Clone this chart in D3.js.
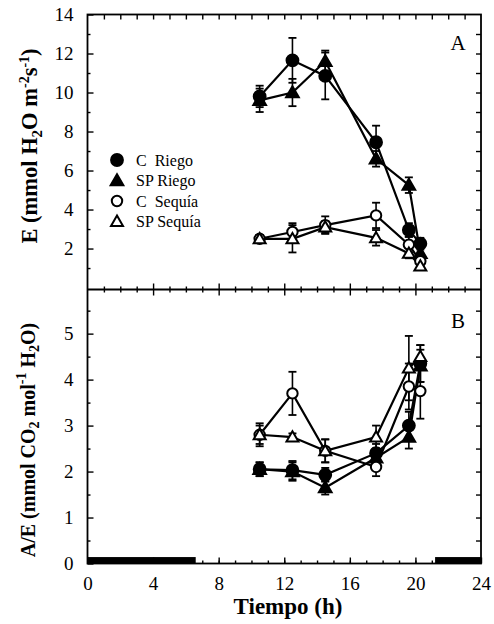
<!DOCTYPE html>
<html><head><meta charset="utf-8">
<script src="https://cdn.jsdelivr.net/npm/d3@7"></script>
<style>
html,body{margin:0;padding:0;background:#fff;}
svg{display:block;font-family:"Liberation Serif","Times New Roman",serif;}
</style></head>
<body>
<svg id="c" width="494" height="624"></svg>
<script>
// ---- data ----
const times = [10.5, 12.5, 14.5, 17.6, 19.6, 20.3];
const seriesNames = ["C  Riego", "SP Riego", "C  Sequía", "SP Sequía"];
// Panel A: E (mmol H2O m-2 s-1)
const eCRiego    = [9.8, 11.65, 10.85, 7.45, 2.95, 2.25];
const eCRiegoErr = [0.55, 1.15, 1.2, 0.85, 0.35, 0.3];
const eSPRiego    = [9.6, 10.0, 11.6, 6.6, 5.25, 1.75];
const eSPRiegoErr = [0.6, 0.7, 0.55, 0.4, 0.4, 0.3];
const eCSequia    = [2.5, 2.85, 3.2, 3.7, 2.2, 1.35];
const eCSequiaErr = [0.2, 0.45, 0.45, 0.65, 0.4, 0.2];
const eSPSequia    = [2.5, 2.5, 3.1, 2.55, 1.75, 1.1];
const eSPSequiaErr = [0.2, 0.7, 0.3, 0.4, 0.25, 0.15];
// Panel B: A/E (mmol CO2 mol-1 H2O)
const aeCRiego    = [2.05, 2.03, 1.93, 2.4, 3.0, 4.35];
const aeCRiegoErr = [0.15, 0.2, 0.15, 0.2, 0.3, 0.4];
const aeSPRiego    = [2.05, 2.0, 1.65, 2.3, 2.75, 4.3];
const aeSPRiegoErr = [0.15, 0.2, 0.15, 0.2, 0.25, 0.35];
const aeCSequia    = [2.8, 3.7, 2.45, 2.1, 3.85, 3.75];
const aeCSequiaErr = [0.2, 0.47, 0.25, 0.2, 0.5, 0.6];
const aeSPSequia    = [2.8, 2.75, 2.45, 2.75, 4.25, 4.5];
const aeSPSequiaErr = [0.25, 0.08, 0.25, 0.25, 0.7, 0.25];
// night periods (h)
const nightStart = [0, 21.2];
const nightEnd   = [6.6, 24];
const xTicks = [0, 4, 8, 12, 16, 20, 24];
const eTicks = [2, 4, 6, 8, 10, 12, 14];
const aeTicks = [0, 1, 2, 3, 4, 5];

// ---- layout ----
const svg = d3.select("#c");
const L = 87.5, R = 481, T = 14.5, M = 289.5, B = 563.5;
const x = d3.scaleLinear().domain([0, 24]).range([L, R]);
const yA = d3.scaleLinear().domain([-0.1, 14]).range([M, T]);
const yB = d3.scaleLinear().domain([0, 5.96]).range([B, M]);

const markers = [
  {shape: d3.symbolCircle, fill: "#000", size: 110},
  {shape: d3.symbolTriangle, fill: "#000", size: 70},
  {shape: d3.symbolCircle, fill: "#fff", size: 85},
  {shape: d3.symbolTriangle, fill: "#fff", size: 62}
];

function axisStyle(g){
  g.select(".domain").remove();
  g.selectAll("line").attr("stroke", "#000").attr("stroke-width", 1.4);
  g.selectAll("text").attr("fill", "#000").attr("font-size", 19).attr("font-family", '"Liberation Serif",serif');
}
const range = (a, b, s) => d3.range(a, b + 1e-9, s);

// night bars
svg.append("g").selectAll("rect").data(nightStart).join("rect")
  .attr("x", (d, i) => x(d)).attr("width", (d, i) => x(nightEnd[i]) - x(d))
  .attr("y", yB(0.14)).attr("height", yB(0) - yB(0.14)).attr("fill", "#000");

// Left axes
svg.append("g").attr("transform", `translate(${L},0)`)
  .call(d3.axisLeft(yA).tickValues(range(1, 13, 2)).tickSize(-3).tickFormat(""))
  .call(axisStyle);
svg.append("g").attr("transform", `translate(${L},0)`)
  .call(d3.axisLeft(yA).tickValues(eTicks).tickSize(-6).tickPadding(14).tickFormat(d3.format("d")))
  .call(axisStyle);
svg.append("g").attr("transform", `translate(${L},0)`)
  .call(d3.axisLeft(yB).tickValues(range(0.5, 5.5, 1)).tickSize(-3).tickFormat(""))
  .call(axisStyle);
svg.append("g").attr("transform", `translate(${L},0)`)
  .call(d3.axisLeft(yB).tickValues(aeTicks).tickSize(-6).tickPadding(14).tickFormat(d3.format("d")))
  .call(axisStyle);
// Right axes
svg.append("g").attr("transform", `translate(${R},0)`)
  .call(d3.axisRight(yA).tickValues(range(1, 13, 1)).tickSize(-5).tickFormat(""))
  .call(axisStyle);
svg.append("g").attr("transform", `translate(${R},0)`)
  .call(d3.axisRight(yB).tickValues(range(0.5, 5.5, 0.5)).tickSize(-5).tickFormat(""))
  .call(axisStyle);
// Top axis (inward)
svg.append("g").attr("transform", `translate(0,${T})`)
  .call(d3.axisTop(x).tickValues(range(1, 23, 1)).tickSize(-5).tickFormat(""))
  .call(axisStyle);
// Middle shared axis (crossing ticks)
svg.append("g").attr("transform", `translate(0,${M})`)
  .call(d3.axisBottom(x).tickValues(range(1, 23, 1)).tickSize(3).tickFormat(""))
  .call(axisStyle)
  .call(g => g.selectAll("line").attr("y1", d => d % 4 === 0 ? -6 : -3).attr("y2", d => d % 4 === 0 ? 6 : 3));
// Bottom axis
svg.append("g").attr("transform", `translate(0,${B})`)
  .call(d3.axisBottom(x).tickValues(range(1, 23, 1)).tickSize(-3).tickFormat(""))
  .call(axisStyle);
svg.append("g").attr("transform", `translate(0,${B})`)
  .call(d3.axisBottom(x).tickValues(xTicks).tickSize(-6).tickPadding(13).tickFormat(d3.format("d")))
  .call(axisStyle);

// frame
svg.append("rect").attr("x", L).attr("y", T).attr("width", R - L).attr("height", B - T)
  .attr("fill", "none").attr("stroke", "#000").attr("stroke-width", 1.8);
svg.append("line").attr("x1", L).attr("x2", R).attr("y1", M).attr("y2", M)
  .attr("stroke", "#000").attr("stroke-width", 1.8);

// draw series
function drawPanel(y, vals, errs){
  const g = svg.append("g");
  const line = d3.line().x((d, i) => x(times[i])).y(d => y(d));
  vals.forEach((v, s) => {
    g.append("path").datum(v).attr("d", line)
      .attr("fill", "none").attr("stroke", "#000").attr("stroke-width", 2.2);
  });
  vals.forEach((v, s) => {
    const e = errs[s];
    const eg = g.append("g");
    eg.selectAll("line.v").data(v).join("line")
      .attr("x1", (d, i) => x(times[i])).attr("x2", (d, i) => x(times[i]))
      .attr("y1", (d, i) => y(d - e[i])).attr("y2", (d, i) => y(d + e[i]))
      .attr("stroke", "#000").attr("stroke-width", 1.6);
    [1, -1].forEach(sg => {
      eg.selectAll("line.c" + sg).data(v).join("line")
        .attr("x1", (d, i) => x(times[i]) - 4).attr("x2", (d, i) => x(times[i]) + 4)
        .attr("y1", (d, i) => y(d + sg * e[i])).attr("y2", (d, i) => y(d + sg * e[i]))
        .attr("stroke", "#000").attr("stroke-width", 1.8);
    });
  });
  vals.forEach((v, s) => {
    const m = markers[s];
    g.append("g").selectAll("path").data(v).join("path")
      .attr("transform", (d, i) => `translate(${x(times[i])},${y(d) + (m.shape === d3.symbolTriangle ? 1 : 0)})`)
      .attr("d", d3.symbol().type(m.shape).size(m.size))
      .attr("fill", m.fill).attr("stroke", "#000").attr("stroke-width", 2);
  });
}
drawPanel(yA, [eCRiego, eSPRiego, eCSequia, eSPSequia],
  [eCRiegoErr, eSPRiegoErr, eCSequiaErr, eSPSequiaErr]);
drawPanel(yB, [aeCRiego, aeSPRiego, aeCSequia, aeSPSequia],
  [aeCRiegoErr, aeSPRiegoErr, aeCSequiaErr, aeSPSequiaErr]);

// legend
const lg = svg.append("g");
seriesNames.forEach((n, i) => {
  const yy = 160 + i * 20.5;
  const m = markers[i];
  lg.append("path").attr("transform", `translate(117,${yy + (m.shape === d3.symbolTriangle ? 1 : 0)})`)
    .attr("d", d3.symbol().type(m.shape).size(m.size))
    .attr("fill", m.fill).attr("stroke", "#000").attr("stroke-width", 2);
  lg.append("text").attr("x", 136).attr("y", yy + 5.5).attr("font-size", 16)
    .attr("xml:space", "preserve").style("white-space", "pre").text(n);
});

// panel labels
svg.append("text").attr("x", 458).attr("y", 50).attr("text-anchor", "middle").attr("font-size", 21).text("A");
svg.append("text").attr("x", 458).attr("y", 328).attr("text-anchor", "middle").attr("font-size", 21).text("B");

// axis titles
const tA = svg.append("text").attr("transform", "translate(37,146) rotate(-90)")
  .attr("text-anchor", "middle").attr("font-size", 22.5).attr("font-weight", "bold");
tA.append("tspan").text("E (mmol H");
tA.append("tspan").attr("font-size", 15).attr("dy", 5).text("2");
tA.append("tspan").attr("dy", -5).text("O m");
tA.append("tspan").attr("font-size", 14).attr("dy", -8).text("-2");
tA.append("tspan").attr("dy", 8).text("s");
tA.append("tspan").attr("font-size", 14).attr("dy", -8).text("-1");
tA.append("tspan").attr("dy", 8).text(")");

const tB = svg.append("text").attr("transform", "translate(35,440) rotate(-90)")
  .attr("text-anchor", "middle").attr("font-size", 20).attr("font-weight", "bold");
tB.append("tspan").text("A/E (mmol CO");
tB.append("tspan").attr("font-size", 14).attr("dy", 4).text("2");
tB.append("tspan").attr("dy", -4).text("  mol");
tB.append("tspan").attr("font-size", 14).attr("dy", -9).text("-1");
tB.append("tspan").attr("dy", 9).text(" H");
tB.append("tspan").attr("font-size", 14).attr("dy", 4).text("2");
tB.append("tspan").attr("dy", -4).text("O)");

svg.append("text").attr("x", 288).attr("y", 614).attr("text-anchor", "middle")
  .attr("font-size", 23).attr("font-weight", "bold").text("Tiempo (h)");
</script>
</body></html>
